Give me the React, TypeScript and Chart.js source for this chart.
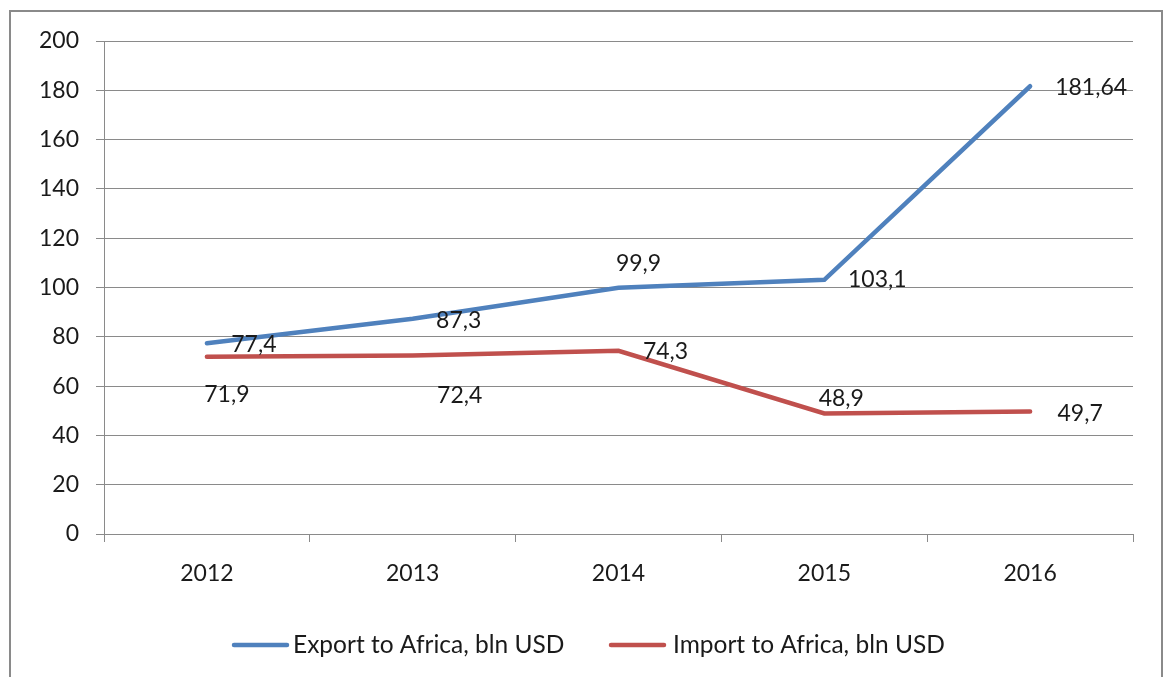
import React, { useEffect, useRef } from "react";
import { Chart, registerables } from "chart.js";

Chart.register(...registerables);

// ---- data ----
const years = ["2012", "2013", "2014", "2015", "2016"];
const exportValues = [77.4, 87.3, 99.9, 103.1, 181.64];
const importValues = [71.9, 72.4, 74.3, 48.9, 49.7];
const seriesNames = ["Export to Africa, bln USD", "Import to Africa, bln USD"];
const yMin = 0;
const yMax = 200;
const yStep = 20;

// ---- styling / label placement (offset of label centre from its point, px) ----
const exportLabelOffsets = [[47, 1], [46, 2], [20, -24], [53, 0], [61, 1]];
const importLabelOffsets = [[20, 38], [47, 40], [47, 1], [17, -15], [50, 2]];
const legendItemX = [232, 609];
const seriesColors = ["#4F81BD", "#C0504D"];
const FONT = "Lato";
const FONT_SIZE = 23;
const LEGEND_FONT_SIZE = 24.5;
const TEXT_COLOR = "#1a1a1a";
const GRID_COLOR = "#8a8a8a";

const fmt = (v: number) => String(v).replace(".", ",");

const dataLabelPlugin = {
  id: "dataLabels",
  afterDatasetsDraw(chart: any) {
    const ctx = chart.ctx;
    const offsets = [exportLabelOffsets, importLabelOffsets];
    ctx.save();
    ctx.font = `${FONT_SIZE}px ${FONT}`;
    ctx.fillStyle = TEXT_COLOR;
    ctx.textAlign = "center";
    ctx.textBaseline = "middle";
    chart.data.datasets.forEach((ds: any, di: number) => {
      const meta = chart.getDatasetMeta(di);
      meta.data.forEach((pt: any, i: number) => {
        const [dx, dy] = offsets[di][i];
        ctx.fillText(fmt(ds.data[i]), pt.x + dx, pt.y + dy);
      });
    });
    ctx.restore();
  },
};

const legendPlugin = {
  id: "customLegend",
  afterDraw(chart: any) {
    const ctx = chart.ctx;
    ctx.save();
    ctx.font = `${LEGEND_FONT_SIZE}px ${FONT}`;
    ctx.textBaseline = "middle";
    ctx.textAlign = "left";
    const y = 645;
    chart.data.datasets.forEach((ds: any, di: number) => {
      const x = legendItemX[di];
      ctx.strokeStyle = ds.borderColor;
      ctx.lineWidth = 4.5;
      ctx.lineCap = "round";
      ctx.beginPath();
      ctx.moveTo(x + 2, y);
      ctx.lineTo(x + 55, y);
      ctx.stroke();
      ctx.fillStyle = TEXT_COLOR;
      ctx.fillText(ds.label, x + 61 + di * 3, y);
    });
    ctx.restore();
  },
};

export default function App() {
  const canvasRef = useRef<HTMLCanvasElement | null>(null);

  useEffect(() => {
    let chart: Chart | null = null;
    let cancelled = false;
    document.body.style.margin = "0";
    const make = () => {
      if (cancelled || !canvasRef.current) return;
      chart = new Chart(canvasRef.current, {
        type: "line",
        data: {
          labels: years,
          datasets: [
            {
              label: seriesNames[0],
              data: exportValues,
              borderColor: seriesColors[0],
              backgroundColor: seriesColors[0],
              borderWidth: 4.5,
              pointRadius: 0,
              tension: 0,
              borderCapStyle: "round",
            },
            {
              label: seriesNames[1],
              data: importValues,
              borderColor: seriesColors[1],
              backgroundColor: seriesColors[1],
              borderWidth: 4.5,
              pointRadius: 0,
              tension: 0,
              borderCapStyle: "round",
            },
          ],
        },
        options: {
          responsive: false,
          animation: false,
          layout: { padding: { top: 41, right: 33, left: 0, bottom: 0 } },
          plugins: { legend: { display: false }, tooltip: { enabled: false } },
          scales: {
            x: {
              type: "category",
              offset: true,
              afterFit: (s: any) => {
                s.height = 143;
              },
              grid: {
                offset: true,
                drawOnChartArea: false,
                tickLength: 8,
                color: GRID_COLOR,
              },
              border: { color: GRID_COLOR },
              ticks: {
                color: TEXT_COLOR,
                font: { family: FONT, size: FONT_SIZE },
                padding: 18,
                maxRotation: 0,
              },
            },
            y: {
              min: yMin,
              max: yMax,
              afterFit: (s: any) => {
                s.width = 104;
              },
              grid: { color: GRID_COLOR, tickLength: 8 },
              border: { color: GRID_COLOR },
              ticks: {
                stepSize: yStep,
                color: TEXT_COLOR,
                font: { family: FONT, size: FONT_SIZE },
                padding: 17,
              },
            },
          },
        },
        plugins: [dataLabelPlugin, legendPlugin],
      } as any);
    };
    const fonts: any = (document as any).fonts;
    if (fonts && fonts.load) {
      fonts.load(`${FONT_SIZE}px ${FONT}`).then(make, make);
    } else {
      make();
    }
    return () => {
      cancelled = true;
      if (chart) chart.destroy();
    };
  }, []);

  return (
    <div
      style={{
        position: "fixed",
        left: 0,
        top: 0,
        width: 1166,
        height: 677,
        overflow: "hidden",
        background: "#fff",
      }}
    >
      <div
        style={{
          position: "absolute",
          left: 9,
          top: 10,
          width: 1150,
          height: 720,
          border: "2px solid #8a8a8a",
          boxSizing: "content-box",
        }}
      />
      <canvas
        ref={canvasRef}
        width={1166}
        height={677}
        style={{ position: "absolute", left: 0, top: 0, width: 1166, height: 677 }}
      />
    </div>
  );
}
